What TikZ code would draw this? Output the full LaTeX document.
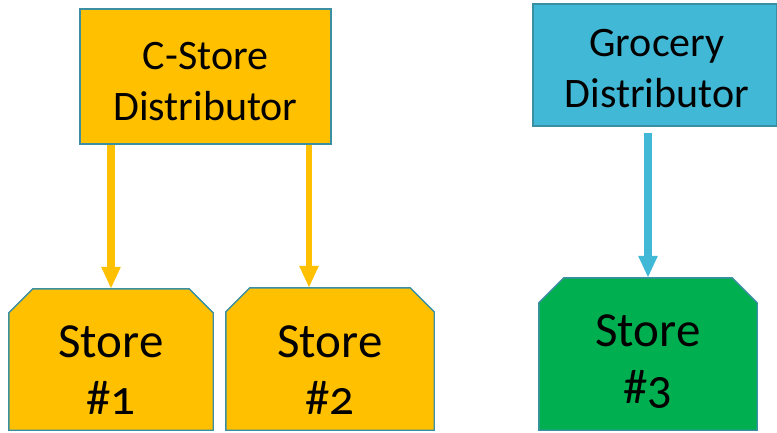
\documentclass[tikz,border=0pt]{standalone}
\usepackage{fontspec}
\setmainfont[Numbers=OldStyle]{Carlito}
\usetikzlibrary{arrows.meta}
\definecolor{gold}{HTML}{FFC000}
\definecolor{sky}{HTML}{41B8D5}
\definecolor{grn}{HTML}{00B050}
\definecolor{edge}{HTML}{3A8FA3}
\tikzset{
  x=1pt,y=-1pt,
  distbox/.style={draw=edge,line width=1.4pt,inner sep=0pt},
  disttext/.style={align=center,inner sep=0pt,font=\fontsize{42}{51}\selectfont},
  storearea/.style={inner sep=0pt},
  storeline/.style={draw=edge,line width=1.4pt},
  storetext/.style={align=center,inner sep=0pt,font=\fontsize{49}{57}\selectfont},
  flow/.style={-{Triangle[width=18pt,length=22pt]}},
}
\newcommand{\storeshape}[3]{% name, colour, chamfer
  \path[storeline,fill=#2] (#1.south west) -- ([yshift=-#3]#1.north west) -- ([xshift=#3]#1.north west)
    -- ([xshift=-#3]#1.north east) -- ([yshift=-#3]#1.north east) -- (#1.south east) -- cycle;}
\begin{document}
\begin{tikzpicture}
\useasboundingbox (0,0) rectangle (777,432);
\node[distbox,fill=gold,minimum width=251pt,minimum height=135pt] (cd) at (205.5,76.5) {};
\node[disttext] (cdt) at (205.5,82) {C-Store\\Distributor};
\node[distbox,fill=sky,minimum width=244pt,minimum height=122pt] (gd) at (655,65) {};
\node[disttext] (gdt) at (657,69) {Grocery\\Distributor};
\node[storearea,minimum width=204pt,minimum height=141pt] (s1) at (111,359.5) {};
\node[storearea,minimum width=208pt,minimum height=142pt] (s2) at (330,359) {};
\node[storearea,minimum width=218pt,minimum height=152pt] (s3) at (648,354) {};
\storeshape{s1}{gold}{24pt}
\storeshape{s2}{gold}{24pt}
\storeshape{s3}{grn}{25pt}
\node[storetext] (s1t) at (111,370) {Store\\\#1};
\node[storetext] (s2t) at (330,370) {Store\\\#2};
\node[storetext] (s3t) at (648,362) {Store\\\#3};
\draw[flow,gold,line width=8pt] (cd.south -| 111,0) -- (s1.north -| 111,0);
\draw[flow,gold,line width=5.5pt] (cd.south -| 309,0) -- (s2.north -| 309,0);
\draw[flow,sky,line width=8pt] ([yshift=-6pt]gd.south -| 648,0) -- (s3.north -| 648,0);
\end{tikzpicture}
\end{document}
